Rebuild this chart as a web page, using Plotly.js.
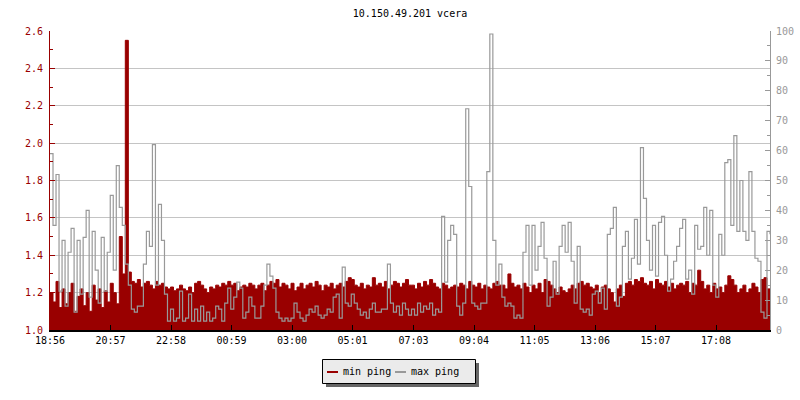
<!DOCTYPE html>
<html><head><meta charset="utf-8">
<script src="https://cdn.plot.ly/plotly-3.0.1.min.js"></script>
<style>html,body{margin:0;padding:0;background:#fff}#chart{width:800px;height:400px}</style>
</head><body><div id="chart"></div>
<script>
const chartTitle = '10.150.49.201 vcera';
const startTime = '18:56';
const periodMinutes = 1440;
const tickLabels = ['18:56','20:57','22:58','00:59','03:00','05:01','07:03','09:04','11:05','13:06','15:07','17:08'];
const seriesNames = ['min ping', 'max ping'];

// min ping (left axis)
const minPing = [
  1.2,1.15,1.26,1.12,1.22,1.14,1.2,1.25,1.1,1.18,
  1.22,1.13,1.2,1.1,1.24,1.16,1.22,1.12,1.21,1.15,
  1.25,1.2,1.14,1.5,1.3,2.55,1.31,1.26,1.25,1.27,
  1.23,1.25,1.26,1.24,1.22,1.26,1.24,1.25,1.23,1.22,
  1.23,1.21,1.22,1.24,1.22,1.21,1.23,1.2,1.25,1.26,
  1.24,1.22,1.2,1.23,1.22,1.24,1.23,1.25,1.24,1.26,
  1.24,1.25,1.21,1.23,1.24,1.23,1.25,1.24,1.22,1.24,
  1.25,1.21,1.24,1.26,1.25,1.27,1.23,1.25,1.24,1.22,
  1.25,1.21,1.23,1.25,1.22,1.24,1.25,1.23,1.26,1.24,
  1.21,1.24,1.23,1.25,1.22,1.24,1.25,1.23,1.26,1.28,
  1.27,1.24,1.23,1.25,1.22,1.24,1.23,1.28,1.24,1.25,
  1.23,1.26,1.22,1.24,1.26,1.25,1.23,1.25,1.27,1.24,
  1.24,1.22,1.25,1.23,1.26,1.24,1.27,1.25,1.23,1.22,
  1.25,1.24,1.22,1.23,1.24,1.23,1.25,1.24,1.22,1.26,
  1.24,1.23,1.25,1.22,1.24,1.23,1.22,1.25,1.26,1.24,
  1.24,1.22,1.3,1.25,1.23,1.24,1.22,1.25,1.23,1.2,
  1.24,1.22,1.25,1.2,1.27,1.26,1.24,1.22,1.2,1.23,
  1.21,1.2,1.22,1.24,1.22,1.25,1.26,1.24,1.25,1.23,
  1.22,1.24,1.2,1.23,1.24,1.22,1.2,1.15,1.22,1.24,
  1.18,1.25,1.26,1.24,1.27,1.26,1.28,1.25,1.24,1.26,
  1.22,1.27,1.25,1.24,1.26,1.23,1.25,1.22,1.24,1.25,
  1.24,1.26,1.2,1.25,1.24,1.32,1.26,1.22,1.24,1.2,
  1.25,1.22,1.23,1.2,1.24,1.29,1.27,1.24,1.2,1.22,
  1.24,1.2,1.22,1.25,1.23,1.2,1.27,1.28,1.22,1.18
];

// max ping (right axis)
const maxPing = [
  59,35,52,13,30,8,26,34,6,30,
  12,31,40,11,33,20,9,31,13,26,
  45,20,55,41,35,22,15,7,6,8,
  8,22,33,28,62,15,42,30,12,3,
  7,3,4,13,3,4,12,3,7,3,
  8,3,6,3,4,8,7,3,9,14,
  7,11,16,14,4,6,11,8,4,4,
  8,15,22,18,14,6,4,3,4,3,
  4,9,6,4,3,5,7,6,8,5,
  4,5,7,6,11,12,4,21,9,8,
  12,9,7,5,6,4,7,9,6,6,
  7,7,22,9,6,8,5,9,7,5,
  7,5,9,6,8,7,9,5,7,6,
  38,16,30,35,32,8,5,9,74,48,
  9,8,7,9,9,53,99,30,15,22,
  11,8,9,8,4,5,4,26,35,15,
  35,20,28,36,24,8,11,23,12,28,
  35,26,36,23,9,28,7,6,7,5,
  12,13,9,14,7,32,34,41,8,11,
  28,33,17,24,37,22,61,44,30,20,
  35,18,36,38,25,13,17,23,28,34,
  37,17,20,12,35,27,28,41,25,40,
  15,11,32,25,56,57,35,65,33,50,
  33,30,53,33,24,23,6,4,33,32
];

const RED = '#990000', GRAY = '#999999';
function toMin(t){ const p = t.split(':').map(Number); return p[0]*60 + p[1]; }
const start = toMin(startTime);
const tickVals = tickLabels.map(t => (toMin(t) - start + 1440) % 1440);
const n = minPing.length;
const xs = minPing.map((_, i) => i * periodMinutes / (n - 1));

// plot-area geometry helpers for the hand-drawn legend box
const M = {l:50, r:30, t:31, b:70};
const PW = 800 - M.l - M.r, PH = 400 - M.t - M.b;
const px = v => (v - M.l) / PW;
const py = v => (400 - M.b - v) / PH;

const traces = [
  {x: xs, y: minPing, name: seriesNames[0], type: 'scatter', mode: 'lines',
   line: {shape: 'hv', color: RED, width: 1}, fill: 'tozeroy', fillcolor: RED,
   yaxis: 'y', hoverinfo: 'skip'},
  {x: xs, y: maxPing, name: seriesNames[1], type: 'scatter', mode: 'lines',
   line: {shape: 'hv', color: GRAY, width: 1.2}, yaxis: 'y2', hoverinfo: 'skip'}
];

const F = 'DejaVu Sans Mono, monospace';
const layout = {
  width: 800, height: 400,
  margin: {l: M.l, r: M.r, t: M.t, b: M.b, pad: 0},
  paper_bgcolor: '#fff', plot_bgcolor: '#fff',
  showlegend: false,
  font: {family: F, size: 10, color: '#000'},
  title: {text: chartTitle, x: 0.5, xref: 'paper', xanchor: 'center',
          y: 1 - 13/400, yref: 'container', yanchor: 'middle',
          font: {family: F, size: 10, color: '#000'}},
  xaxis: {range: [0, periodMinutes], tickmode: 'array', tickvals: tickVals, ticktext: tickLabels,
          ticks: 'inside', ticklen: 5, tickcolor: '#000', tickwidth: 1,
          showline: true, linecolor: '#000', linewidth: 2,
          showgrid: false, zeroline: false, fixedrange: true,
          tickfont: {family: F, size: 10, color: '#000'}},
  yaxis: {range: [1, 2.6], tick0: 1, dtick: 0.2, tickformat: '.1f',
          ticks: 'inside', ticklen: 5, tickcolor: RED,
          showline: true, linecolor: RED, linewidth: 1,
          showgrid: true, gridcolor: '#c4c4c4', gridwidth: 1, zeroline: false,
          ticklabelstandoff: 4, fixedrange: true,
          tickfont: {family: F, size: 10, color: RED},
          minor: {ticks: 'inside', ticklen: 3, tick0: 1, dtick: 0.1, tickcolor: RED, showgrid: false}},
  yaxis2: {overlaying: 'y', side: 'right', range: [0, 100], tick0: 0, dtick: 10,
          ticks: 'inside', ticklen: 5, tickcolor: GRAY,
          showline: true, linecolor: GRAY, linewidth: 1,
          showgrid: false, zeroline: false, ticklabelstandoff: 3, fixedrange: true,
          tickfont: {family: F, size: 10, color: GRAY},
          minor: {ticks: 'inside', ticklen: 3, tick0: 0, dtick: 5, tickcolor: GRAY, showgrid: false}},
  shapes: [
    {type: 'rect', xref: 'paper', yref: 'paper', x0: px(326), x1: px(479), y0: py(387), y1: py(363),
     fillcolor: '#666666', line: {width: 0}, layer: 'above'},
    {type: 'rect', xref: 'paper', yref: 'paper', x0: px(322.5), x1: px(475.5), y0: py(383.5), y1: py(359.5),
     fillcolor: '#ebebeb', line: {color: '#000', width: 1}, layer: 'above'},
    {type: 'line', xref: 'paper', yref: 'paper', x0: px(327), x1: px(338), y0: py(372), y1: py(372),
     line: {color: RED, width: 2}, layer: 'above'},
    {type: 'line', xref: 'paper', yref: 'paper', x0: px(395), x1: px(406), y0: py(372), y1: py(372),
     line: {color: GRAY, width: 2}, layer: 'above'}
  ],
  annotations: [
    {text: seriesNames[0], xref: 'paper', yref: 'paper', x: px(341), y: py(371), xanchor: 'left', yanchor: 'middle',
     showarrow: false, font: {family: F, size: 10, color: '#000'}},
    {text: seriesNames[1], xref: 'paper', yref: 'paper', x: px(409), y: py(371), xanchor: 'left', yanchor: 'middle',
     showarrow: false, font: {family: F, size: 10, color: '#000'}}
  ]
};

Plotly.newPlot('chart', traces, layout, {staticPlot: true, displayModeBar: false});
</script>
</body></html>
